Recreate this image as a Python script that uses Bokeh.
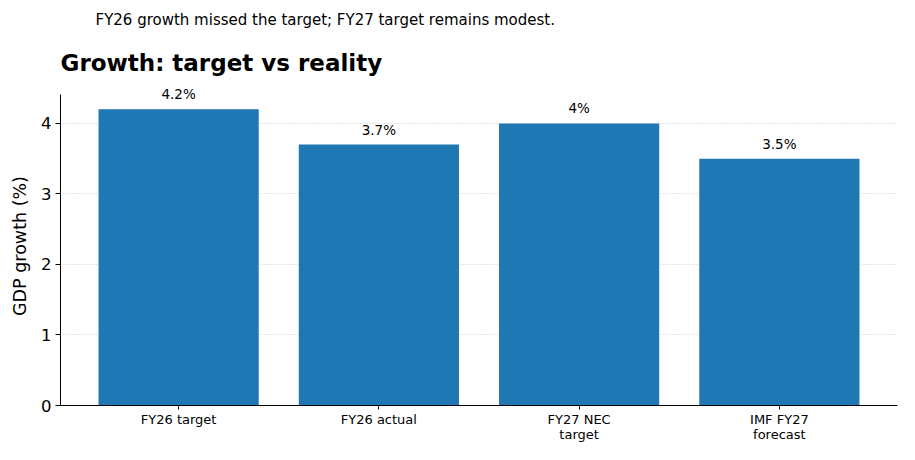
from bokeh.plotting import figure
from bokeh.models import ColumnDataSource, Range1d, FixedTicker, LabelSet, Title
from bokeh.core.properties import value
from bokeh.embed import file_html
from bokeh.resources import INLINE

categories = ["FY26 target", "FY26 actual", "FY27 NEC\ntarget", "IMF FY27\nforecast"]
values = [4.2, 3.7, 4.0, 3.5]
value_labels = ["4.2%", "3.7%", "4%", "3.5%"]
y_ticks = [0, 1, 2, 3, 4]

FONT = "DejaVu Sans"
xs = list(range(len(categories)))

src = ColumnDataSource(dict(x=xs, top=values, lab=value_labels))

p = figure(width=899, height=444, output_backend="svg", toolbar_location=None,
           x_range=Range1d(-0.59, 3.59), y_range=Range1d(0, 4.524),
           min_border_left=60, min_border_right=2, min_border_top=0, min_border_bottom=36)
p.outline_line_color = None

p.vbar(x="x", top="top", width=0.8, bottom=0, source=src, fill_color="#1f77b4", line_color=None)

labels = LabelSet(x="x", y="top", text="lab", source=src, text_align="center",
                  text_baseline="alphabetic", y_offset=10, text_font=value(FONT),
                  text_font_size="13.5px", text_color="#000000")
p.add_layout(labels)

p.xaxis.ticker = FixedTicker(ticks=xs)
p.xaxis.major_label_overrides = {i: c for i, c in enumerate(categories)}
p.xaxis.major_label_text_font = FONT
p.xaxis.major_label_text_font_size = "13px"
p.xaxis.major_label_text_line_height = 1.0
p.xaxis.major_label_text_color = "#000000"
p.xaxis.major_tick_out = 4
p.xaxis.major_tick_in = 0
p.xaxis.minor_tick_line_color = None
p.xaxis.axis_line_color = "#000000"
p.xaxis.major_tick_line_color = "#000000"
p.xaxis.major_label_standoff = 2

p.yaxis.ticker = FixedTicker(ticks=y_ticks)
p.yaxis.bounds = (0, 4.41)
p.yaxis.major_label_text_font = FONT
p.yaxis.major_label_text_font_size = "16.5px"
p.yaxis.major_label_text_color = "#000000"
p.yaxis.major_tick_out = 5
p.yaxis.major_tick_in = 0
p.yaxis.minor_tick_line_color = None
p.yaxis.axis_line_color = "#000000"
p.yaxis.major_tick_line_color = "#000000"
p.yaxis.major_label_standoff = 4
p.yaxis.axis_label = "GDP growth (%)"
p.yaxis.axis_label_text_font = FONT
p.yaxis.axis_label_text_font_size = "17.5px"
p.yaxis.axis_label_text_font_style = "normal"
p.yaxis.axis_label_text_color = "#000000"
p.yaxis.axis_label_standoff = 8

p.xgrid.grid_line_color = None
p.ygrid.grid_line_color = "#b0b0b0"
p.ygrid.grid_line_dash = "1 2"
p.ygrid.grid_line_width = 0.9
p.ygrid.grid_line_alpha = 0.7

p.title = Title(text="FY26 growth missed the target; FY27 target remains modest.",
                align="left", offset=35, text_font=FONT, text_font_size="15px",
                text_font_style="normal", text_color="#000000", standoff=16)
p.add_layout(Title(text="Growth: target vs reality", align="left", text_font=FONT,
                   text_font_size="23px", text_font_style="bold", text_color="#000000",
                   standoff=22), "above")

open("out.html", "w").write(file_html(p, INLINE))
